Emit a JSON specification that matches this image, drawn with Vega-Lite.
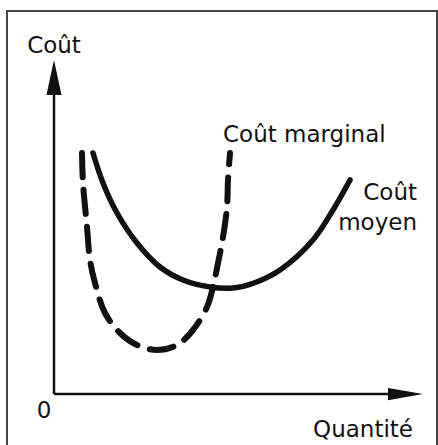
{
  "$schema": "https://vega.github.io/schema/vega-lite/v6.json",
  "width": 438,
  "height": 445,
  "autosize": "none",
  "padding": 0,
  "background": "white",
  "config": {"view": {"stroke": null}},
  "datasets": {
    "marginal": [
      {"q": 28, "c": 241}, {"q": 29, "c": 211}, {"q": 33, "c": 167}, {"q": 36, "c": 134},
      {"q": 41, "c": 111}, {"q": 51, "c": 81}, {"q": 66, "c": 61}, {"q": 83, "c": 49},
      {"q": 103, "c": 44}, {"q": 123, "c": 49}, {"q": 139, "c": 64}, {"q": 153, "c": 87},
      {"q": 159, "c": 107}, {"q": 164, "c": 131}, {"q": 169, "c": 157}, {"q": 173, "c": 187},
      {"q": 174, "c": 214}, {"q": 176, "c": 241}
    ],
    "moyen": [
      {"q": 39, "c": 241}, {"q": 49, "c": 211}, {"q": 63, "c": 181}, {"q": 83, "c": 151},
      {"q": 106, "c": 127}, {"q": 129, "c": 114}, {"q": 156, "c": 107}, {"q": 179, "c": 106},
      {"q": 200, "c": 111}, {"q": 226, "c": 124}, {"q": 259, "c": 154}, {"q": 279, "c": 184},
      {"q": 296, "c": 214}
    ],
    "labels": [
      {"text": "Coût", "q": 0, "c": 341, "align": "center"},
      {"text": "0", "q": -10, "c": -24, "align": "center"},
      {"text": "Coût marginal", "q": 169, "c": 252, "align": "left"},
      {"text": "Coût", "q": 363, "c": 194, "align": "right"},
      {"text": "moyen", "q": 363, "c": 164, "align": "right"},
      {"text": "Quantité", "q": 359, "c": -43, "align": "right"}
    ]
  },
  "layer": [
    {
      "data": {"values": [{"x1": -47, "x2": 383, "y1": -60, "y2": 383}]},
      "mark": {"type": "rect", "filled": false, "stroke": "#444444", "strokeWidth": 2},
      "encoding": {
        "x": {"field": "x1", "type": "quantitative", "scale": {"domain": [-54, 384], "nice": false, "zero": false}, "axis": null},
        "x2": {"field": "x2"},
        "y": {"field": "y1", "type": "quantitative", "scale": {"domain": [-51, 394], "nice": false, "zero": false}, "axis": null},
        "y2": {"field": "y2"}
      }
    },
    {
      "data": {"values": [
        {"x1": 0, "x2": 0, "y1": 0, "y2": 300},
        {"x1": 0, "x2": 336, "y1": 0, "y2": 0}
      ]},
      "mark": {"type": "rule", "color": "#111111", "strokeWidth": 2.5},
      "encoding": {
        "x": {"field": "x1", "type": "quantitative"},
        "x2": {"field": "x2"},
        "y": {"field": "y1", "type": "quantitative"},
        "y2": {"field": "y2"}
      }
    },
    {
      "data": {"values": [{"q": 0, "c": 316.5}]},
      "mark": {"type": "point", "shape": "M0,-1L0.43,1L-0.43,1Z", "size": 1225, "filled": true, "fill": "#111111", "opacity": 1, "strokeWidth": 0},
      "encoding": {
        "x": {"field": "q", "type": "quantitative"},
        "y": {"field": "c", "type": "quantitative"}
      }
    },
    {
      "data": {"values": [{"q": 351.5, "c": 0}]},
      "mark": {"type": "point", "shape": "M1,0L-1,0.35L-1,-0.35Z", "size": 1225, "filled": true, "fill": "#111111", "opacity": 1, "strokeWidth": 0},
      "encoding": {
        "x": {"field": "q", "type": "quantitative"},
        "y": {"field": "c", "type": "quantitative"}
      }
    },
    {
      "data": {"name": "moyen"},
      "mark": {"type": "line", "interpolate": "catmull-rom", "color": "#111111", "strokeWidth": 5.5, "strokeCap": "round"},
      "encoding": {
        "x": {"field": "q", "type": "quantitative"},
        "y": {"field": "c", "type": "quantitative"}
      }
    },
    {
      "data": {"name": "marginal"},
      "mark": {"type": "line", "interpolate": "catmull-rom", "color": "#111111", "strokeWidth": 6, "strokeCap": "round", "strokeDash": [24, 13]},
      "encoding": {
        "x": {"field": "q", "type": "quantitative"},
        "y": {"field": "c", "type": "quantitative"}
      }
    },
    {
      "data": {"name": "labels"},
      "transform": [{"filter": "datum.align === 'center'"}],
      "mark": {"type": "text", "align": "center", "baseline": "alphabetic", "font": "DejaVu Sans", "fontSize": 23, "color": "#111111"},
      "encoding": {
        "x": {"field": "q", "type": "quantitative"},
        "y": {"field": "c", "type": "quantitative"},
        "text": {"field": "text"}
      }
    },
    {
      "data": {"name": "labels"},
      "transform": [{"filter": "datum.align === 'left'"}],
      "mark": {"type": "text", "align": "left", "baseline": "alphabetic", "font": "DejaVu Sans", "fontSize": 23, "color": "#111111"},
      "encoding": {
        "x": {"field": "q", "type": "quantitative"},
        "y": {"field": "c", "type": "quantitative"},
        "text": {"field": "text"}
      }
    },
    {
      "data": {"name": "labels"},
      "transform": [{"filter": "datum.align === 'right'"}],
      "mark": {"type": "text", "align": "right", "baseline": "alphabetic", "font": "DejaVu Sans", "fontSize": 23, "color": "#111111"},
      "encoding": {
        "x": {"field": "q", "type": "quantitative"},
        "y": {"field": "c", "type": "quantitative"},
        "text": {"field": "text"}
      }
    }
  ]
}
